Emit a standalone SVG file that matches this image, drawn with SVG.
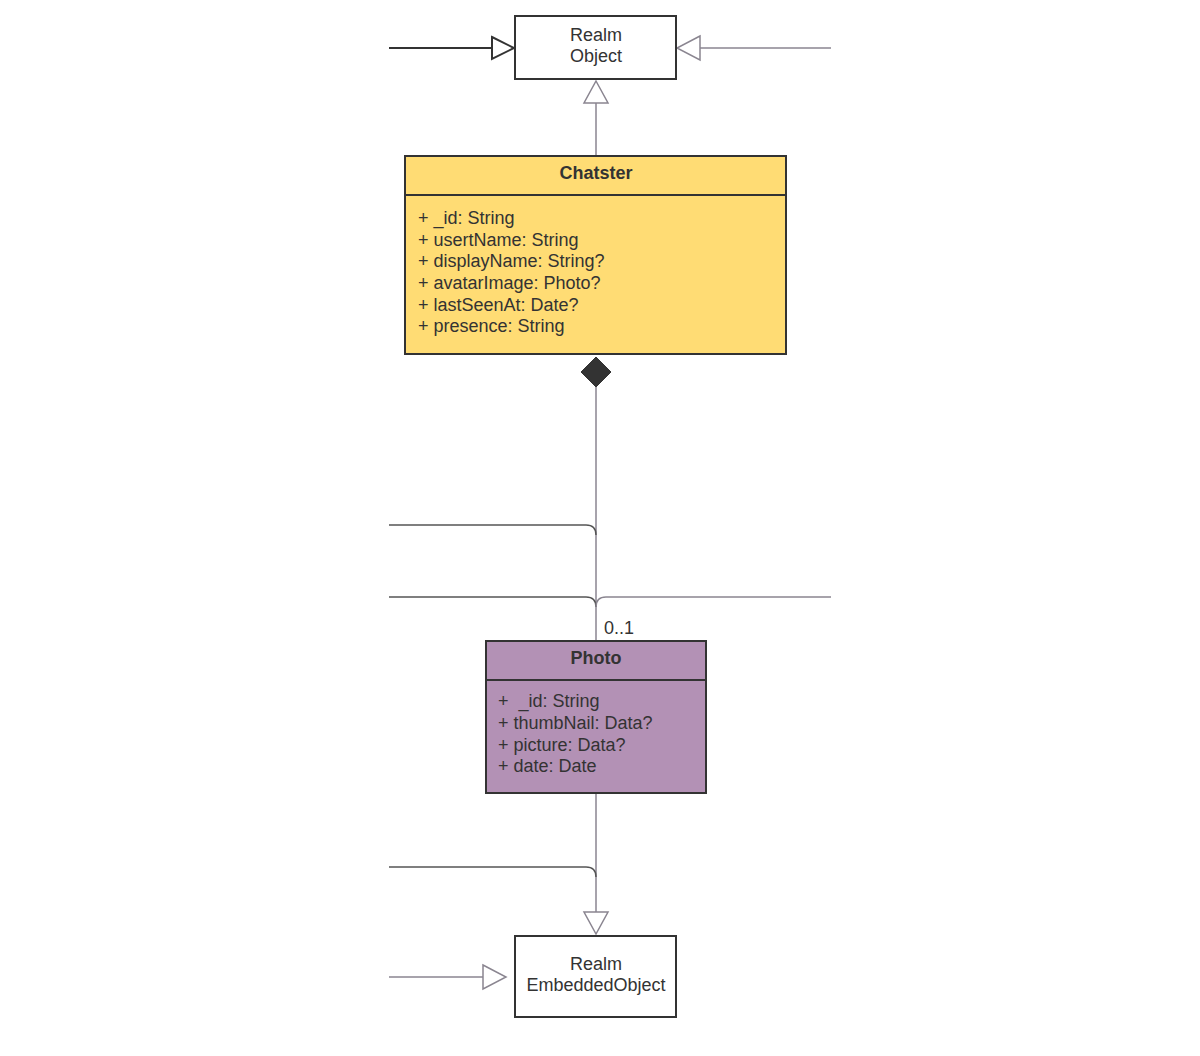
<svg xmlns="http://www.w3.org/2000/svg" width="1200" height="1056" viewBox="0 0 1200 1056">
<style>
.box{stroke:#333;stroke-width:2}
.t{font-family:"Liberation Sans",Arial,sans-serif;font-size:18px;fill:#333}
.c{text-anchor:middle}
.b{font-weight:bold}
.dark{fill:none;stroke:#333;stroke-width:2}
.gray{fill:none;stroke:#8a8590;stroke-width:1.5}
.mid{fill:none;stroke:#555;stroke-width:1.5}
.hd{fill:#fff;stroke:#333;stroke-width:2}
.hg{fill:#fff;stroke:#8a8590;stroke-width:1.5}
</style>
<rect width="1200" height="1056" fill="#fff"/>
<g id="connectors">
  <line class="dark" x1="389" y1="48" x2="492" y2="48"/>
  <polygon class="hd" points="492,37 514,48 492,59"/>
  <line class="gray" x1="831" y1="48" x2="700" y2="48"/>
  <polygon class="hg" points="700,36 677,48 700,60"/>
  <line class="gray" x1="596" y1="103" x2="596" y2="156"/>
  <polygon class="hg" points="596,81 608,103 584,103"/>
  <line class="gray" x1="596" y1="386" x2="596" y2="641"/>
  <polygon fill="#333" stroke="#333" stroke-width="1" points="596,357 611,372 596,387 581,372"/>
  <path class="mid" d="M389,525 H586 Q596,525 596,535"/>
  <path class="mid" d="M389,597 H586 Q596,597 596,607"/>
  <path class="gray" d="M831,597 H606 Q596,597 596,607"/>
  <text class="t" x="604" y="634">0..1</text>
  <line class="gray" x1="596" y1="793" x2="596" y2="912"/>
  <polygon class="hg" points="584,912 608,912 596,934"/>
  <path class="mid" d="M389,867 H586 Q596,867 596,877"/>
  <line class="gray" x1="389" y1="977" x2="483" y2="977"/>
  <polygon class="hg" points="483,965 506,977 483,989"/>
</g>
<g id="realm-object">
  <rect class="box" x="515" y="16" width="161" height="63" fill="#fff"/>
  <text class="t c" x="596" y="41">Realm</text>
  <text class="t c" x="596" y="62">Object</text>
</g>
<g id="chatster">
  <rect class="box" x="405" y="156" width="381" height="198" fill="#FFDC74"/>
  <line class="box" x1="405" y1="195" x2="786" y2="195"/>
  <text class="t c b" x="596" y="179">Chatster</text>
  <text class="t" x="418" y="224">+ _id: String</text>
  <text class="t" x="418" y="246">+ usertName: String</text>
  <text class="t" x="418" y="267">+ displayName: String?</text>
  <text class="t" x="418" y="289">+ avatarImage: Photo?</text>
  <text class="t" x="418" y="311">+ lastSeenAt: Date?</text>
  <text class="t" x="418" y="332">+ presence: String</text>
</g>
<g id="photo">
  <rect class="box" x="486" y="641" width="220" height="152" fill="#B391B5"/>
  <line class="box" x1="486" y1="680" x2="706" y2="680"/>
  <text class="t c b" x="596" y="664">Photo</text>
  <text class="t" x="498" y="707" xml:space="preserve">+  _id: String</text>
  <text class="t" x="498" y="729">+ thumbNail: Data?</text>
  <text class="t" x="498" y="751">+ picture: Data?</text>
  <text class="t" x="498" y="772">+ date: Date</text>
</g>
<g id="realm-embedded-object">
  <rect class="box" x="515" y="936" width="161" height="81" fill="#fff"/>
  <text class="t c" x="596" y="970">Realm</text>
  <text class="t c" x="596" y="991">EmbeddedObject</text>
</g>
</svg>
